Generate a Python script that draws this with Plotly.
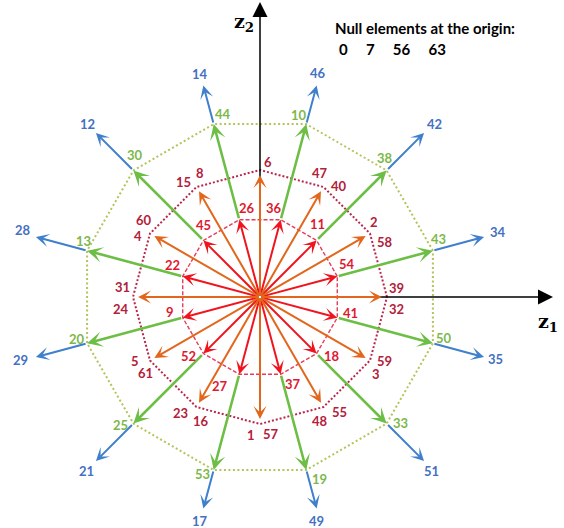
import math
import plotly.graph_objects as go

# Element indices on each ring, listed counter-clockwise.
# Red / green / blue rings start at 15 degrees, the orange ring at 0 degrees.
RED_LABELS = [54, 11, 36, 26, 45, 22, 9, 52, 27, 37, 18, 41]
GREEN_LABELS = [43, 38, 10, 44, 30, 13, 20, 25, 53, 19, 33, 50]
BLUE_LABELS = [34, 42, 46, 14, 12, 28, 29, 21, 17, 49, 51, 35]
ORANGE_LABELS = [(39, 32), (2, 58), (47, 40), (6,), (15, 8), (60, 4),
                 (31, 24), (5, 61), (23, 16), (1, 57), (55, 48), (59, 3)]
NULL_ELEMENTS = [0, 7, 56, 63]

SKEW_ANGLES = [15 + 30 * k for k in range(12)]
AXIAL_ANGLES = [30 * k for k in range(12)]

# vector magnitudes
RED_R = 80
ORANGE_R = 122
ORANGE_RING_R = 127
GREEN_R = 179
BLUE_R = [232, 232, 219, 219, 232, 232, 232, 232, 219, 219, 232, 232]

# label placement (pixel shifts from the vertex, y up)
RED_SHIFT = [(10, 12), (1, 16), (-7, 12), (8, 12), (0, 15), (-10, 11),
             (-13, 6), (-15, -2), (-19, -12), (12, -10), (15, -2), (13, 5)]
ORANGE_SHIFT = [[(9, 9), (9, -12)], [(4, 12), (15, -8)], [(-4, 14), (15, 1)],
                [(8, 8)], [(-13, 5), (3, 14)], [(-6, 14), (-12, -2)],
                [(-11, 10), (-12, -12)], [(-15, 0), (-5, -12)],
                [(-16, -6), (4, -14)], [(-9, -11), (11, -10)],
                [(16, -5), (-4, -14)], [(15, 0), (6, -13)]]
GREEN_SHIFT = [(6, 12), (-2, 12), (-7, 9), (9, 10), (2, 15), (-4, 10),
               (-10, 4), (-13, -1), (-11, -4), (13, -9), (14, 1), (11, 5)]
BLUE_SHIFT = [(14, 5), (10, 9), (1, 12), (-3, 11), (-8, 9), (-13, 7),
              (-15, -3), (-9, -10), (-3, -12), (0, -12), (7, -10), (11, -2)]

C_RED = "#F0141E"
C_RED_TXT = "#E0182F"
C_ORANGE = "#E2661C"
C_ORANGE_TXT = "#B3203A"
C_GREEN = "#6CBE45"
C_GREEN_TXT = "#7DB84A"
C_BLUE = "#3F7FCC"
C_BLUE_TXT = "#4470C2"
C_RING_RED = "#E63C58"
C_RING_ORANGE = "#B8284A"
C_RING_GREEN = "#B2C45A"

FONT = "Lato"


def polar(r, deg):
    a = math.radians(deg)
    return r * math.cos(a), r * math.sin(a)


fig = go.Figure()


def ring(radius, angles, color, dash, width):
    pts = [polar(radius, a) for a in angles] + [polar(radius, angles[0])]
    fig.add_trace(go.Scatter(
        x=[p[0] for p in pts], y=[p[1] for p in pts], mode="lines",
        line=dict(color=color, width=width, dash=dash),
        hoverinfo="skip", showlegend=False))


ring(RED_R, SKEW_ANGLES, C_RING_RED, "4px,2px", 1.4)
ring(ORANGE_RING_R, AXIAL_ANGLES, C_RING_ORANGE, "2px,2px", 2)
ring(GREEN_R, SKEW_ANGLES, C_RING_GREEN, "2px,2.5px", 2)

annotations = []


def arrow(tail, tip, color, width, head=3, size=1.0):
    annotations.append(dict(
        x=tip[0], y=tip[1], ax=tail[0], ay=tail[1],
        xref="x", yref="y", axref="x", ayref="y",
        text="", showarrow=True, arrowhead=head, arrowsize=size,
        arrowwidth=width, arrowcolor=color, standoff=0, startstandoff=0))


def label(pos, shift, text, color, size=13):
    annotations.append(dict(
        x=pos[0], y=pos[1], xref="x", yref="y", xshift=shift[0], yshift=shift[1],
        text="<b>%s</b>" % text, showarrow=False,
        font=dict(family=FONT, size=size, color=color)))


# coordinate axes
arrow((0, 0), (293, 0), "black", 1.5, head=2, size=2)
arrow((0, 0), (0, 295), "black", 1.5, head=2, size=2)

# vectors
for i, ang in enumerate(SKEW_ANGLES):
    arrow((0, 0), polar(RED_R, ang), C_RED, 2, size=1.1)
for i, ang in enumerate(AXIAL_ANGLES):
    arrow((0, 0), polar(ORANGE_R, ang), C_ORANGE, 2, size=1.1)
for i, ang in enumerate(SKEW_ANGLES):
    arrow(polar(RED_R, ang), polar(GREEN_R, ang), C_GREEN, 2.6)
for i, ang in enumerate(SKEW_ANGLES):
    arrow(polar(GREEN_R, ang), polar(BLUE_R[i], ang), C_BLUE, 2, size=1.1)

# element labels
for i, ang in enumerate(SKEW_ANGLES):
    label(polar(RED_R, ang), RED_SHIFT[i], RED_LABELS[i], C_RED_TXT)
    label(polar(GREEN_R, ang), GREEN_SHIFT[i], GREEN_LABELS[i], C_GREEN_TXT)
    label(polar(BLUE_R[i], ang), BLUE_SHIFT[i], BLUE_LABELS[i], C_BLUE_TXT)
for i, ang in enumerate(AXIAL_ANGLES):
    for lab, sh in zip(ORANGE_LABELS[i], ORANGE_SHIFT[i]):
        label(polar(ORANGE_RING_R, ang), sh, lab, C_ORANGE_TXT)

# axis names
annotations.append(dict(x=288, y=-25, xref="x", yref="y", showarrow=False,
                        text="<b>z<sub>1</sub></b>",
                        font=dict(family="DejaVu Serif", size=19, color="black")))
annotations.append(dict(x=-16, y=275, xref="x", yref="y", showarrow=False,
                        text="<b>z<sub>2</sub></b>",
                        font=dict(family="DejaVu Serif", size=19, color="black")))

# null elements note
annotations.append(dict(x=73, y=269, xref="x", yref="y", xanchor="left", showarrow=False,
                        text="<b>Null elements at the origin:</b>",
                        font=dict(family=FONT, size=15, color="black")))
annotations.append(dict(x=77, y=248, xref="x", yref="y", xanchor="left", showarrow=False,
                        text="<b>" + ("&nbsp;" * 5).join(str(v) for v in NULL_ELEMENTS) + "</b>",
                        font=dict(family=FONT, size=15, color="black")))

fig.update_layout(
    width=564, height=528,
    margin=dict(l=0, r=0, t=0, b=0),
    paper_bgcolor="white", plot_bgcolor="white",
    xaxis=dict(range=[-260, 304], visible=False, fixedrange=True),
    yaxis=dict(range=[-231, 297], visible=False, fixedrange=True),
    annotations=annotations,
    showlegend=False,
)

fig.write_html("out.html")
